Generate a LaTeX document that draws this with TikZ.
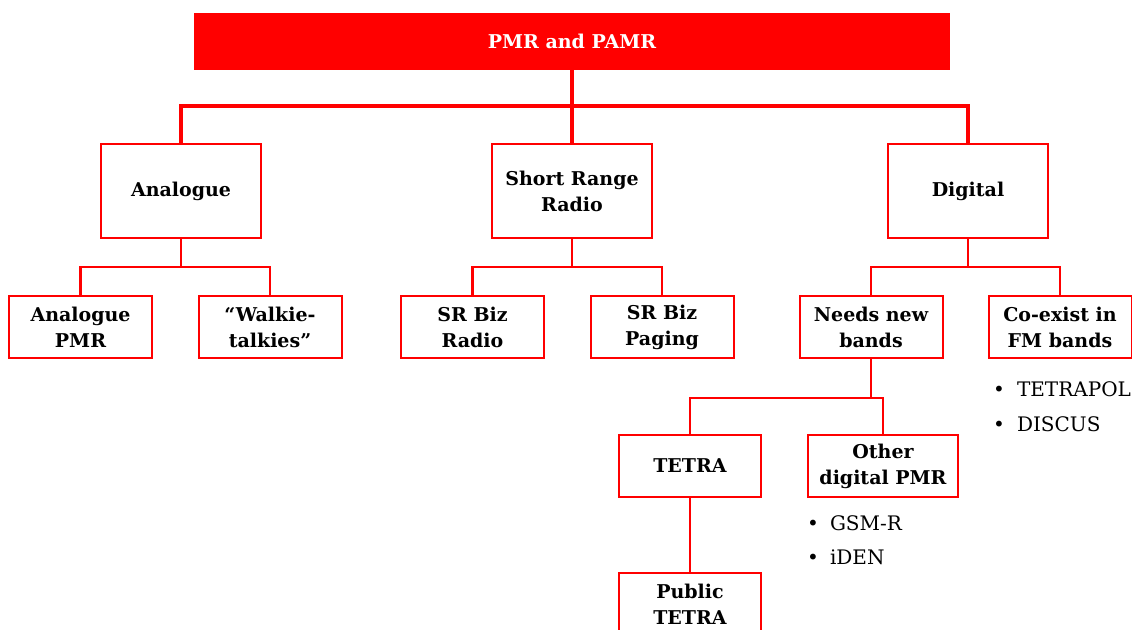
\documentclass[tikz,border=0pt]{standalone}
\usepackage{fontspec}
\setmainfont{DejaVu Serif}
\usepackage{tikz}
\usetikzlibrary{positioning}
\definecolor{pmrred}{HTML}{FF0000}

\begin{document}
\begin{tikzpicture}[x=1pt, y=-1pt,
  txt/.style={font=\fontsize{20}{26}\selectfont},
  box/.style={draw=pmrred, line width=2pt, fill=white, inner sep=0pt, align=center, font=\fontsize{19}{26}\selectfont\bfseries},
  bigbox/.style={box, minimum width=160pt, minimum height=94pt},
  smallbox/.style={box, minimum width=143pt, minimum height=62pt},
  toplink/.style={draw=pmrred, line width=4pt},
  link/.style={draw=pmrred, line width=2.5pt},
  item/.style={txt, anchor=base west, inner sep=0pt}]
\useasboundingbox (0,0) rectangle (1132,629);

% Root
\node[fill=pmrred, minimum width=756pt, minimum height=57pt, inner sep=0pt,
  text=white, font=\fontsize{19}{26}\selectfont\bfseries] (root) at (572,41.5) {PMR and PAMR};

% First level
\node[bigbox] (analogue) at (181,191) {Analogue};
\node[bigbox] (srr) at (572,191) {Short Range\\Radio};
\node[bigbox] (digital) at (968,191) {Digital};

% Second level
\node[smallbox] (apmr) at (80.5,327) {Analogue\\PMR};
\node[smallbox] (walkie) at (270,327) {``Walkie-\\talkies''};
\node[smallbox] (srbizradio) at (472.5,327) {SR Biz\\Radio};
\node[smallbox] (srbizpaging) at (662,327) {SR Biz\\Paging};
\node[smallbox] (needs) at (871,327) {Needs new\\bands};
\node[smallbox] (coexist) at (1060,327) {Co-exist in\\FM bands};

% Third level
\node[smallbox, minimum width=142pt] (tetra) at (690,466) {TETRA};
\node[smallbox, minimum width=150pt] (other) at (883,466) {Other\\digital PMR};
\node[smallbox, minimum width=142pt] (public) at (690,604) {Public\\TETRA};

% Bullet lists
\node[item] (tetrapol) at (993,396) {•\hspace{12pt}TETRAPOL};
\node[item] (discus) at (993,431) {•\hspace{12pt}DISCUS};
\node[item] (gsmr) at (807,530) {•\hspace{11pt}GSM-R};
\node[item] (iden) at (807,564) {•\hspace{11pt}iDEN};

% Connectors
\coordinate (bus0) at (572,106);
\draw[toplink] (root.south) -- (bus0) -| (analogue.north);
\draw[toplink] (bus0) -| (digital.north);
\draw[toplink] (bus0) -- (srr.north);

\coordinate (bus1) at (181,267);
\draw[link] (analogue.south) -- (bus1) -| (apmr.north);
\draw[link] (bus1) -| (walkie.north);
\coordinate (bus2) at (572,267);
\draw[link] (srr.south) -- (bus2) -| (srbizradio.north);
\draw[link] (bus2) -| (srbizpaging.north);
\coordinate (bus3) at (968,267);
\draw[link] (digital.south) -- (bus3) -| (needs.north);
\draw[link] (bus3) -| (coexist.north);

\coordinate (bus4) at (871,398);
\draw[link] (needs.south) -- (bus4) -| (tetra.north);
\draw[link] (bus4) -| (other.north);
\draw[link] (tetra.south) -- (public.north);
\end{tikzpicture}
\end{document}
